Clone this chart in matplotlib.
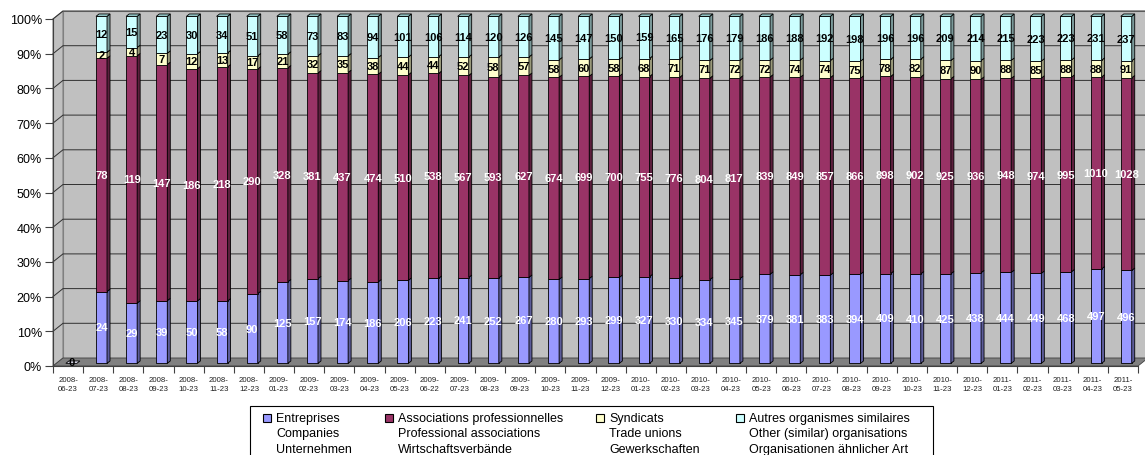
import numpy as np
import matplotlib.pyplot as plt
from matplotlib.patches import Polygon, Rectangle

plt.rcParams['font.family'] = ['Liberation Sans', 'DejaVu Sans']

# data

dates = ['2008-06-23', '2008-07-23', '2008-08-23', '2008-09-23', '2008-10-23', '2008-11-23',
         '2008-12-23', '2009-01-23', '2009-02-23', '2009-03-23', '2009-04-23', '2009-05-23',
         '2009-06-22', '2009-07-23', '2009-08-23', '2009-09-23', '2009-10-23', '2009-11-23',
         '2009-12-23', '2010-01-23', '2010-02-23', '2010-03-23', '2010-04-23', '2010-05-23',
         '2010-06-23', '2010-07-23', '2010-08-23', '2010-09-23', '2010-10-23', '2010-11-23',
         '2010-12-23', '2011-01-23', '2011-02-23', '2011-03-23', '2011-04-23', '2011-05-23']

companies = [0, 24, 29, 39, 50, 58, 90, 125, 157, 174, 186, 206, 223, 241, 252, 267, 280, 293,
             299, 327, 330, 334, 345, 379, 381, 383, 394, 409, 410, 425, 438, 444, 449, 468, 497, 496]
professional = [0, 78, 119, 147, 186, 218, 290, 328, 381, 437, 474, 510, 538, 567, 593, 627, 674, 699,
                700, 755, 776, 804, 817, 839, 849, 857, 866, 898, 902, 925, 936, 948, 974, 995, 1010, 1028]
unions = [0, 2, 4, 7, 12, 13, 17, 21, 32, 35, 38, 44, 44, 52, 58, 57, 58, 60,
          58, 68, 71, 71, 72, 72, 74, 74, 75, 78, 82, 87, 90, 88, 85, 88, 88, 91]
others = [0, 12, 15, 23, 30, 34, 51, 58, 73, 83, 94, 101, 106, 114, 120, 126, 145, 147,
          150, 159, 165, 176, 179, 186, 188, 192, 198, 196, 196, 209, 214, 215, 223, 223, 231, 237]

legend_labels = [['Entreprises', 'Companies', 'Unternehmen'],
                 ['Associations professionnelles', 'Professional associations', 'Wirtschaftsverbände'],
                 ['Syndicats', 'Trade unions', 'Gewerkschaften'],
                 ['Autres organismes similaires', 'Other (similar) organisations', 'Organisationen ähnlicher Art']]

front_colors = ['#9999FF', '#993366', '#FFFFCC', '#CCFFFF']
side_colors = ['#5C5C99', '#5C1F3D', '#99997A', '#7A9999']
text_colors = ['white', 'white', 'black', 'black']

series = np.array([companies, professional, unions, others], dtype=float)
totals = series.sum(axis=0)
pct = np.where(totals > 0, series / np.where(totals > 0, totals, 1) * 100, 0)

W, H = 1145, 456
fig = plt.figure(figsize=(W / 100, H / 100), dpi=100)
ax = fig.add_axes([53 / W, (H - 367) / H, 1085 / W, 347 / H])
n = len(dates)
ax.set_xlim(-0.5, n - 0.5)
ax.set_ylim(0, 100)
ax.set_facecolor('none')

# 3d depth in data units
ux = 1085 / n
uy = 347 / 100
DX = 10 / ux
DY = 8 / uy
BW = 11 / ux
f0, f1 = 0.33, 0.63
d = f1 - f0

# walls and floor
x_l, x_r = -0.5, n - 0.5
ax.add_patch(Polygon([(x_l + DX, DY), (x_r + DX, DY), (x_r + DX, 100 + DY), (x_l + DX, 100 + DY)],
                     closed=True, facecolor='#C0C0C0', edgecolor='#808080', lw=0.8, clip_on=False, zorder=0))
ax.add_patch(Polygon([(x_l, 0), (x_l, 100), (x_l + DX, 100 + DY), (x_l + DX, DY)],
                     closed=True, facecolor='#C0C0C0', edgecolor='#808080', lw=0.8, clip_on=False, zorder=0))
ax.add_patch(Polygon([(x_l, 0), (x_r, 0), (x_r + DX, DY), (x_l + DX, DY)],
                     closed=True, facecolor='#808080', edgecolor='#404040', lw=0.6, clip_on=False, zorder=0.5))

# gridlines
for g in range(10, 101, 10):
    ax.plot([x_l, x_l + DX, x_r + DX], [g, g + DY, g + DY], color='#303030', lw=0.7,
            clip_on=False, zorder=0.6)

# bars
for i in range(n):
    x0 = i - BW / 2 + f0 * DX
    x1 = x0 + BW
    if totals[i] == 0:
        ax.add_patch(Polygon([(x0, f0 * DY), (x1, f0 * DY), (x1 + d * DX, f1 * DY), (x0 + d * DX, f1 * DY)],
                             closed=True, facecolor='#E0E0F0', edgecolor='black', lw=0.6, clip_on=False, zorder=2))
        ax.text(x0 + BW / 2, 1.2, '0', ha='center', va='center', fontsize=8, fontweight='bold',
                color='black', zorder=5)
        continue
    bottom = 0
    for k in range(4):
        top = bottom + pct[k, i]
        y0 = bottom + f0 * DY
        y1 = top + f0 * DY
        ax.add_patch(Rectangle((x0, y0), BW, top - bottom, facecolor=front_colors[k],
                               edgecolor='black', lw=0.6, clip_on=False, zorder=2))
        ax.add_patch(Polygon([(x1, y0), (x1 + d * DX, y0 + d * DY), (x1 + d * DX, y1 + d * DY), (x1, y1)],
                             closed=True, facecolor=side_colors[k], edgecolor='black', lw=0.6,
                             clip_on=False, zorder=2))
        if k == 3:
            ax.add_patch(Polygon([(x0, y1), (x1, y1), (x1 + d * DX, y1 + d * DY), (x0 + d * DX, y1 + d * DY)],
                                 closed=True, facecolor='#99CCCC', edgecolor='black', lw=0.6,
                                 clip_on=False, zorder=2))
        ax.text(x0 + BW / 2, (y0 + y1) / 2, str(int(series[k, i])), ha='center', va='center',
                fontsize=8, fontweight='bold', color=text_colors[k], zorder=5)
        bottom = top

# axes
for s in ['top', 'right']:
    ax.spines[s].set_visible(False)
ax.spines['left'].set_color('#404040')
ax.spines['bottom'].set_color('#404040')
ax.spines['left'].set_zorder(1)
ax.set_yticks(range(0, 101, 10))
ax.set_yticklabels([f'{v}%' for v in range(0, 101, 10)], fontsize=9)
ax.tick_params(axis='y', length=6, width=0.8, color='#404040', pad=2)
ax.set_xticks(range(n))
ax.set_xticklabels([s[:5] + '\n' + s[5:] for s in dates], fontsize=5.6, color='#202020',
                   linespacing=1.5)
ax.tick_params(axis='x', which='major', length=0, pad=7)
ax.set_xticks(np.arange(-0.5, n, 1), minor=True)
ax.tick_params(axis='x', which='minor', length=5, width=0.8, color='#404040')

# legend drawn by hand to keep the markers at the first line
def fx(x):
    return x / W

def fy(y):
    return 1 - y / H

fig.add_artist(Rectangle((fx(250), fy(470)), fx(933) - fx(250), fy(407) - fy(470),
                         transform=fig.transFigure, facecolor='white', edgecolor='black', lw=0.8))
col_x = [263, 385, 596, 736]
for k in range(4):
    fig.add_artist(Rectangle((fx(col_x[k]), fy(423)), fx(8), 8 / H, transform=fig.transFigure,
                             facecolor=front_colors[k], edgecolor='black', lw=0.8))
    for j, line in enumerate(legend_labels[k]):
        fig.text(fx(col_x[k] + 13), fy(419 + j * 15.5), line, fontsize=9, va='center', ha='left')

fig.savefig('out.png', dpi=100)
